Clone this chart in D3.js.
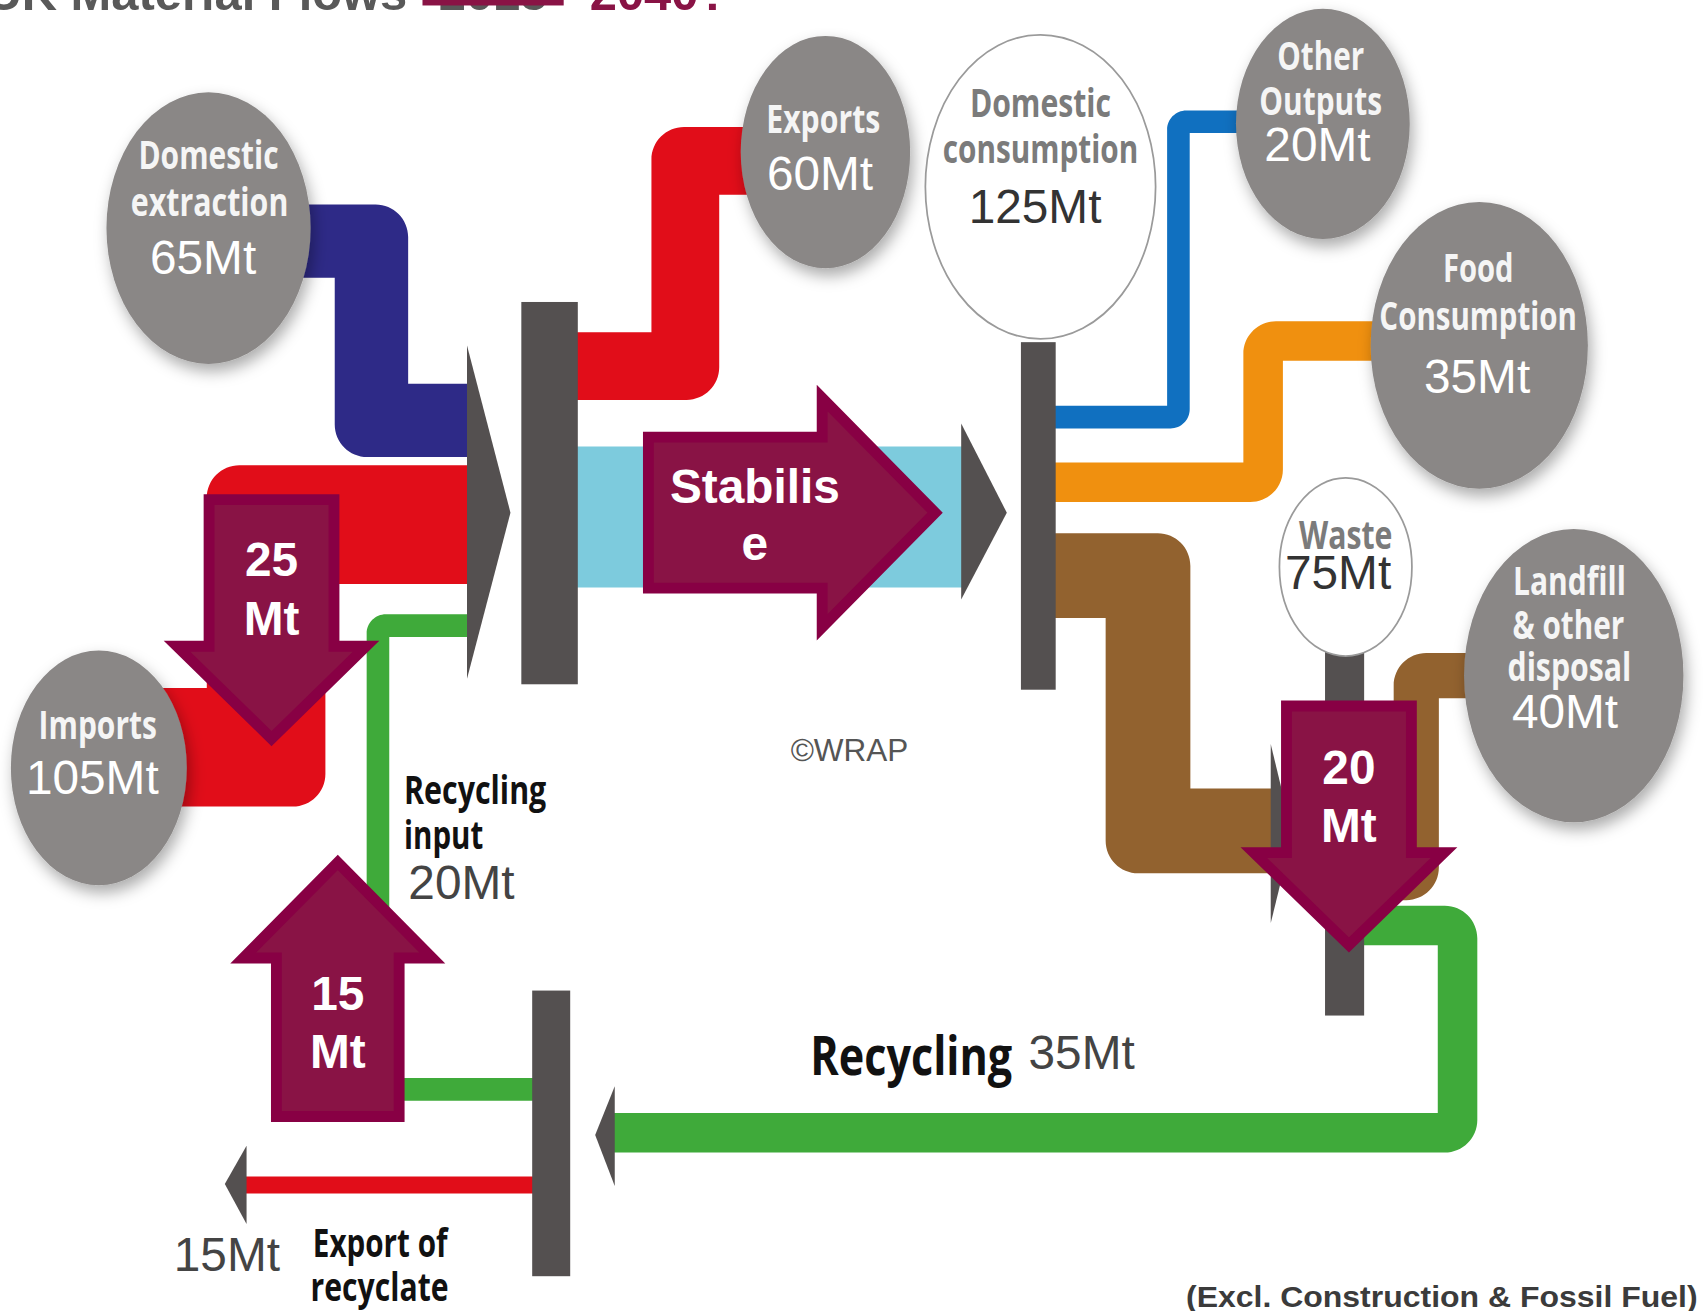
<!DOCTYPE html>
<html>
<head>
<meta charset="utf-8">
<script src="https://cdn.jsdelivr.net/npm/d3@7"></script>
<style>
html, body { margin: 0; padding: 0; background: #fff; overflow: hidden; }
svg { display: block; }
.lbl { font-family: "Open Sans", sans-serif; font-weight: 700; }
.val { font-family: "Liberation Sans", Arial, sans-serif; }
.bold { font-family: "Liberation Sans", Arial, sans-serif; font-weight: 700; }
</style>
</head>
<body>
<svg id="chart"></svg>
<script>
// ===== UK material flows infographic =====

// ---- data ----
var titleParts = ["UK Material Flows", "2015", "2040?"];

var nodeNames = ["Domestic extraction", "Imports", "Exports", "Domestic consumption",
  "Other Outputs", "Food Consumption", "Waste", "Landfill & other disposal",
  "Recycling input", "Export of recyclate", "Recycling"];
var nodeLines = [["Domestic", "extraction"], ["Imports"], ["Exports"], ["Domestic", "consumption"],
  ["Other", "Outputs"], ["Food", "Consumption"], ["Waste"], ["Landfill", "& other", "disposal"],
  ["Recycling", "input"], ["Export of", "recyclate"], ["Recycling"]];
var nodeValues = [65, 105, 60, 125, 20, 35, 75, 40, 20, 15, 35];

var flowFrom  = ["Domestic extraction", "Imports", "Recycling", "Inputs", "Inputs",
  "Domestic consumption", "Domestic consumption", "Domestic consumption", "Waste", "Waste", "Recycling"];
var flowTo    = ["Inputs", "Inputs", "Inputs", "Exports", "Domestic consumption",
  "Other Outputs", "Food Consumption", "Waste", "Landfill & other disposal", "Recycling", "Export of recyclate"];
var flowValue = [65, 105, 20, 60, 125, 20, 35, 75, 40, 35, 15];

var changeLabels = [["25", "Mt"], ["20", "Mt"], ["15", "Mt"], ["Stabilis", "e"]];

var creditText = "\u00A9WRAP";
var noteText = "(Excl. Construction & Fossil Fuel)";

// ---- layout & style ----
var W = 1568, H = 1207;
var COLOURS = {
  grey: "#8a8786", bar: "#545050", red: "#e10d19", navy: "#2e2a87", sky: "#7dcbdd",
  blue: "#1070c0", orange: "#f0900f", brown: "#92622f", green: "#3faa3a",
  plum: "#891345", plumEdge: "#880044", text: "#444"
};
var flowColour = ["navy", "red", "green", "red", "sky", "blue", "orange", "brown", "brown", "green", "red"];

// centre lines of each flow route
var flowRoutes = [
  [[230, 222], [342, 222], [342, 387], [432, 387]],
  [[120, 688], [245, 688], [245, 483], [432, 483]],
  [[505, 1003], [348, 1003], [348, 576], [432, 576]],
  [[505, 337], [631, 337], [631, 148], [720, 148]],
  [[505, 476], [888, 476]],
  [[955, 384], [1085, 384], [1085, 112], [1160, 112]],
  [[955, 444], [1163, 444], [1163, 314], [1290, 314]],
  [[955, 530], [1057, 530], [1057, 765], [1180, 765]],
  [[1238, 808], [1304, 808], [1304, 622], [1380, 622]],
  [[1238, 852], [1342, 852], [1342, 1043], [560, 1043]],
  [[505, 1091], [222, 1091]]
];

var hubs = [
  { bar: [480, 278, 52, 352], chev: [[430, 318], [470, 472], [430, 625]] },
  { bar: [940, 315, 32, 320], chev: [[885, 390], [927, 472], [885, 552]] },
  { bar: [1220, 598, 36, 337], chev: [[1170, 685], [1190, 768], [1170, 850]] },
  { bar: [490, 912, 35, 263], chev: [[566, 1000], [548, 1045], [566, 1092]] },
  { bar: null, chev: [[227, 1055], [207, 1090], [227, 1127]] }
];

var nodeLayout = {
  "Domestic extraction": { shape: [192, 210, 94, 125], kind: "grey", lines: [[192, 156, 129], [193, 199, 145]], value: [187, 252] },
  "Imports": { shape: [91, 707, 81, 108], kind: "grey", lines: [[90, 680, 109]], value: [85, 731] },
  "Exports": { shape: [760, 140, 78, 107], kind: "grey", lines: [[758, 122, 105]], value: [755, 175] },
  "Domestic consumption": { shape: [958, 172, 106, 140], kind: "white", lines: [[958, 108, 130], [958, 150, 180]], value: [953, 205] },
  "Other Outputs": { shape: [1218, 114, 80, 106], kind: "grey", lines: [[1216, 64, 80], [1216, 106, 113]], value: [1213, 148] },
  "Food Consumption": { shape: [1362, 318, 100, 132], kind: "grey", lines: [[1361, 260, 65], [1361, 304, 182]], value: [1360, 362] },
  "Waste": { shape: [1239, 522, 61, 82], kind: "white", lines: [[1239, 505, 86]], value: [1232, 542] },
  "Landfill & other disposal": { shape: [1449, 622, 101, 135], kind: "grey", lines: [[1445, 548, 104], [1444, 588, 103], [1445, 627, 114]], value: [1441, 670] },
  "Recycling input": { shape: null, kind: "plain", lines: [[372, 740, 131], [372, 782, 73]], value: [376, 828] },
  "Export of recyclate": { shape: null, kind: "plain", lines: [[288, 1157, 124], [286, 1198, 127]], value: [160, 1170] },
  "Recycling": { shape: null, kind: "plain", big: true, lines: [[746, 990, 186]], value: [947, 984] }
};

// change arrows: tail centre, direction, shaft width/length, head width/length
var arrowLayout = [
  { base: [250, 455], dir: [0, 1], sw: 125, len: 140, hw: 188, hl: 92, text: [250, [530, 585]] },
  { base: [1242, 645], dir: [0, 1], sw: 125, len: 140, hw: 189, hl: 92, text: [1242, [722, 775]] },
  { base: [311, 1033], dir: [0, -1], sw: 123, len: 151, hw: 188, hl: 95, text: [311, [930, 983]] },
  { base: [592, 472], dir: [1, 0], sw: 149, len: 165, hw: 225, hl: 111, text: [695, [463, 516]] }
];

var widthScale = d3.scaleLinear().domain([0, 125]).range([0, 130]);

var svg = d3.select("#chart")
  .attr("width", 1703).attr("height", 1311)
  .attr("viewBox", "0 0 " + W + " " + H);

svg.append("rect").attr("width", W).attr("height", H).attr("fill", "#fff");

var defs = svg.append("defs");
defs.append("filter").attr("id", "shadow")
  .attr("x", "-30%").attr("y", "-30%").attr("width", "160%").attr("height", "160%")
  .append("feDropShadow")
  .attr("dx", 3).attr("dy", 7).attr("stdDeviation", 7)
  .attr("flood-color", "#000").attr("flood-opacity", 0.33);

// Orthogonal band with rounded outer corners
function bandPath(pts, w) {
  var h = w / 2, r = Math.min(30, w * 0.85);
  var p = d3.path();
  function side(list, first) {
    var dirs = [], norms = [];
    for (var i = 0; i < list.length - 1; i++) {
      var dx = Math.sign(list[i + 1][0] - list[i][0]), dy = Math.sign(list[i + 1][1] - list[i][1]);
      dirs.push([dx, dy]); norms.push([-dy, dx]);
    }
    var s = [list[0][0] + h * norms[0][0], list[0][1] + h * norms[0][1]];
    if (first) p.moveTo(s[0], s[1]); else p.lineTo(s[0], s[1]);
    for (var j = 1; j < list.length - 1; j++) {
      var din = dirs[j - 1], dout = dirs[j], nin = norms[j - 1], nout = norms[j];
      var c = [list[j][0] + h * (nin[0] + nout[0]), list[j][1] + h * (nin[1] + nout[1])];
      var outer = (nin[0] * dout[0] + nin[1] * dout[1]) < 0;
      if (outer) {
        var k = 0.4477;
        p.lineTo(c[0] - din[0] * r, c[1] - din[1] * r);
        p.bezierCurveTo(c[0] - din[0] * r * k, c[1] - din[1] * r * k,
          c[0] + dout[0] * r * k, c[1] + dout[1] * r * k,
          c[0] + dout[0] * r, c[1] + dout[1] * r);
      } else {
        p.lineTo(c[0], c[1]);
      }
    }
    var last = list[list.length - 1], nl = norms[norms.length - 1];
    p.lineTo(last[0] + h * nl[0], last[1] + h * nl[1]);
  }
  side(pts, true);
  side(pts.slice().reverse(), false);
  p.closePath();
  return p.toString();
}

// Flows
svg.append("g").selectAll("path")
  .data(flowValue.map(function(v, i) { return { value: v, from: flowFrom[i], to: flowTo[i], i: i }; }))
  .join("path")
  .attr("d", function(d) { return bandPath(flowRoutes[d.i], widthScale(d.value)); })
  .attr("fill", function(d) { return COLOURS[flowColour[d.i]]; });

// Hub bars and chevrons
var hubG = svg.append("g");
hubs.forEach(function(hb) {
  hubG.append("polygon").attr("points", hb.chev.map(function(q) { return q.join(","); }).join(" "))
    .attr("fill", COLOURS.bar);
  if (hb.bar) {
    hubG.append("rect").attr("x", hb.bar[0]).attr("y", hb.bar[1])
      .attr("width", hb.bar[2]).attr("height", hb.bar[3]).attr("fill", COLOURS.bar);
  }
});

// Nodes
var nodeG = svg.append("g");
nodeNames.forEach(function(name, i) {
  var lay = nodeLayout[name];
  var g = nodeG.append("g");
  if (lay.shape) {
    g.append("ellipse")
      .attr("cx", lay.shape[0]).attr("cy", lay.shape[1])
      .attr("rx", lay.shape[2]).attr("ry", lay.shape[3])
      .attr("fill", lay.kind === "grey" ? COLOURS.grey : "#fff")
      .attr("stroke", lay.kind === "white" ? "#9a9a9a" : "none")
      .attr("stroke-width", 1.6)
      .attr("filter", lay.kind === "grey" ? "url(#shadow)" : null);
  }
  var anchor = lay.kind === "plain" ? "start" : "middle";
  var labCol = lay.kind === "grey" ? "#f5f5f5" : (lay.kind === "white" ? "#7b7b7b" : "#111");
  var valCol = lay.kind === "grey" ? "#fff" : (lay.kind === "white" ? "#333" : COLOURS.text);
  nodeLines[i].forEach(function(line, j) {
    var pos = lay.lines[j];
    g.append("text").attr("class", "lbl")
      .attr("x", pos[0]).attr("y", pos[1])
      .attr("text-anchor", anchor)
      .attr("font-size", lay.big ? 49 : 37)
      .attr("textLength", pos[2]).attr("lengthAdjust", "spacingAndGlyphs")
      .attr("fill", labCol)
      .text(line);
  });
  g.append("text").attr("class", "val")
    .attr("x", lay.value[0]).attr("y", lay.value[1])
    .attr("text-anchor", anchor)
    .attr("font-size", 44)
    .attr("fill", valCol)
    .text(nodeValues[i] + "Mt");
});

// Change arrows
var arrG = svg.append("g");
arrowLayout.forEach(function(a, i) {
  var d = a.dir, n = [-d[1], d[0]];
  var sw = a.sw - 10, hw = a.hw - 14, len = a.len - 5, hl = a.hl - 7;
  var b = [a.base[0] + d[0] * 5, a.base[1] + d[1] * 5];
  var local = [[0, -sw / 2], [len, -sw / 2], [len, -hw / 2], [len + hl, 0], [len, hw / 2], [len, sw / 2], [0, sw / 2]];
  var pts = local.map(function(q) {
    return [b[0] + q[0] * d[0] + q[1] * n[0], b[1] + q[0] * d[1] + q[1] * n[1]];
  });
  arrG.append("polygon")
    .attr("points", pts.map(function(q) { return q.join(","); }).join(" "))
    .attr("fill", COLOURS.plum).attr("stroke", COLOURS.plumEdge)
    .attr("stroke-width", 10).attr("stroke-linejoin", "miter");
  changeLabels[i].forEach(function(t, j) {
    arrG.append("text").attr("class", "bold")
      .attr("x", a.text[0]).attr("y", a.text[1][j])
      .attr("text-anchor", "middle").attr("font-size", 44)
      .attr("fill", "#fff").text(t);
  });
});

// Credit and footnote
svg.append("text").attr("class", "val")
  .attr("x", 728).attr("y", 701).attr("font-size", 29).attr("fill", "#555")
  .text(creditText);
svg.append("text").attr("class", "bold")
  .attr("x", 1092).attr("y", 1203).attr("font-size", 27)
  .attr("textLength", 471).attr("lengthAdjust", "spacingAndGlyphs")
  .attr("fill", "#3b3b3b").text(noteText);

// Title (cut at the top edge)
var tG = svg.append("g").attr("class", "bold").attr("font-size", 45);
tG.append("text").attr("x", 375).attr("y", 9).attr("text-anchor", "end")
  .attr("fill", "#595959").text(titleParts[0]);
tG.append("text").attr("x", 454).attr("y", 9).attr("text-anchor", "middle")
  .attr("fill", "#595959").text(titleParts[1]);
tG.append("rect").attr("x", 389).attr("y", -14).attr("width", 130).attr("height", 19)
  .attr("fill", COLOURS.plum);
tG.append("text").attr("x", 543).attr("y", 9)
  .attr("fill", COLOURS.plum).text(titleParts[2]);
</script>
</body>
</html>
